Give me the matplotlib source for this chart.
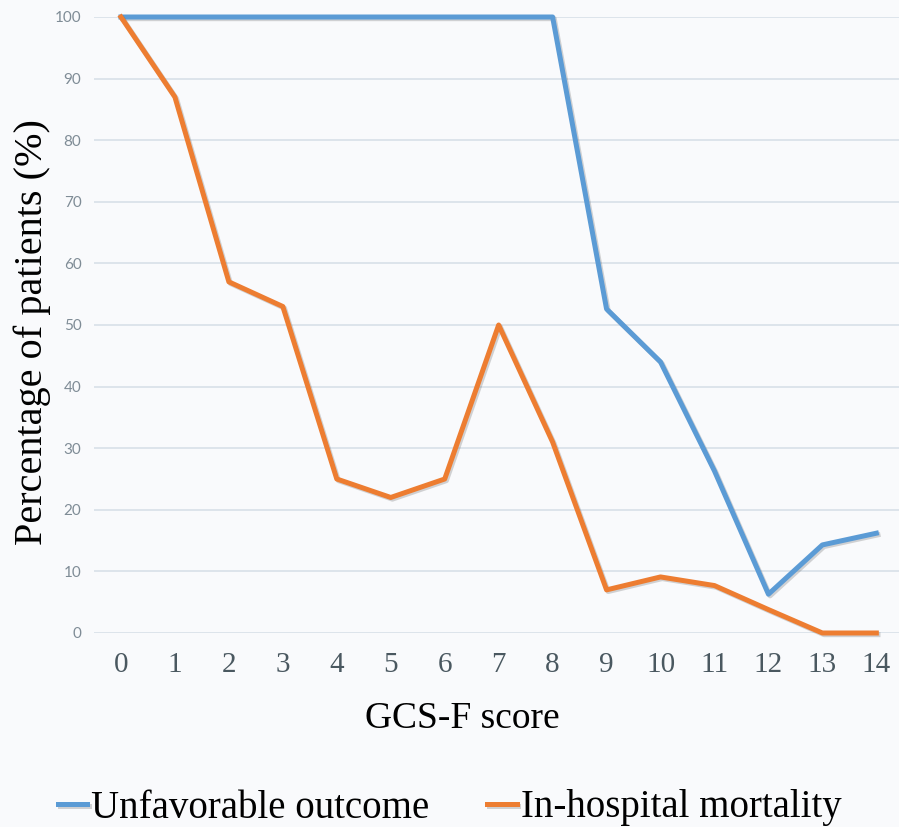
import matplotlib
matplotlib.use("Agg")
import matplotlib.pyplot as plt
import matplotlib.patheffects as pe

# Data
scores = list(range(15))
unfavorable = [100, 100, 100, 100, 100, 100, 100, 100, 100, 52.6, 44, 26.3, 6.3, 14.3, 16.2]
mortality = [100, 87, 57, 53, 25, 22, 25, 50, 31, 7, 9.1, 7.7, 3.8, 0, 0]
series_names = ["Unfavorable outcome", "In-hospital mortality"]

blue = "#5b9bd5"
orange = "#ed7d31"
bg = "#f9fafc"

fig = plt.figure(figsize=(8.99, 8.27), dpi=100, facecolor=bg)
ax = fig.add_axes([94 / 899, 1 - 633 / 827, 1 - 94 / 899, (633 - 17) / 827])
ax.set_facecolor(bg)

shadow = [pe.SimpleLineShadow(offset=(1.2, -1.2), alpha=0.25, shadow_color="#555555"), pe.Normal()]
ax.plot(scores, unfavorable, color=blue, lw=3.6, label=series_names[0],
        clip_on=False, path_effects=shadow, zorder=3)
ax.plot(scores, mortality, color=orange, lw=3.6, label=series_names[1],
        clip_on=False, path_effects=shadow, zorder=4)

ax.set_xlim(-0.5, 14.42)
ax.set_ylim(0, 100)
ax.set_yticks(range(0, 101, 10))
ax.set_xticks(scores)
ax.grid(axis="y", color="#d8e0e8", lw=1.2)
ax.set_axisbelow(True)
for s in ax.spines.values():
    s.set_visible(False)
ax.tick_params(length=0)
ax.tick_params(axis="y", pad=9, labelsize=11, labelcolor="#7f8c96")
ax.tick_params(axis="x", pad=14, labelsize=21, labelcolor="#4a5860")
for t in ax.get_yticklabels():
    t.set_fontfamily("Lato")
for t in ax.get_xticklabels():
    t.set_fontfamily("Liberation Serif")

ax.set_xlabel("GCS-F score", fontsize=27, family="Liberation Serif")
ax.set_ylabel("Percentage of patients (%)", fontsize=29, family="Liberation Serif")
ax.xaxis.set_label_coords(0.458, -0.112)
ax.yaxis.set_label_coords(-0.054, 0.489)

fig.legend(loc="center", bbox_to_anchor=(0.5, 1 - 808 / 827), ncol=2, frameon=False,
           prop={"family": "Liberation Serif", "size": 28}, handlelength=0.75,
           handletextpad=0.1, columnspacing=1.5)

fig.savefig("out.png", dpi=100, facecolor=bg)
